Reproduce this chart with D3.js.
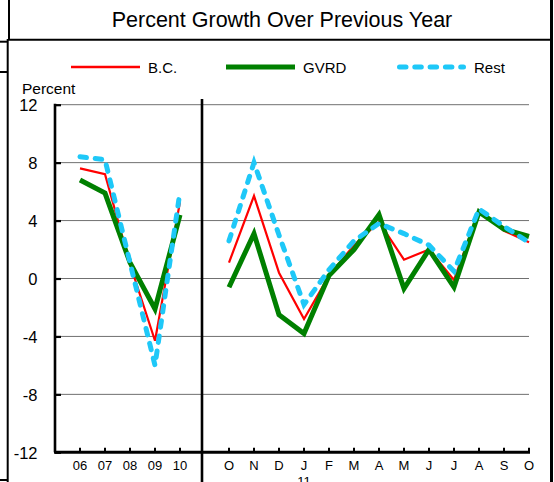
<!DOCTYPE html>
<html>
<head>
<meta charset="utf-8">
<script src="https://cdn.jsdelivr.net/npm/d3@7"></script>
<style>
  html, body { margin: 0; padding: 0; background: #fff; }
  svg { display: block; font-family: "Liberation Sans", Arial, sans-serif; }
</style>
</head>
<body>
<svg id="chart" width="554" height="482"></svg>
<script>
// Annual growth, 2006-2010
const years = ["06", "07", "08", "09", "10"];
const bcAnnual   = [7.6, 7.2, 1.0, -4.3, 5.3];
const gvrdAnnual = [6.8, 5.9, 1.1, -2.1, 4.4];
const restAnnual = [8.4, 8.2, 1.1, -6.0, 6.0];

// Monthly growth, Oct 2010 - Oct 2011
const months = ["O", "N", "D", "J", "F", "M", "A", "M", "J", "J", "A", "S", "O"];
const bcMonthly   = [1.1, 5.7, 0.4, -2.8, 0.2, 2.3, 3.9, 1.3, 2.0, -0.1, 4.7, 3.3, 2.5];
const gvrdMonthly = [-0.6, 3.1, -2.5, -3.8, 0.2, 2.0, 4.4, -0.7, 2.0, -0.6, 4.6, 3.4, 2.9];
const restMonthly = [2.6, 8.0, 3.0, -1.8, 0.6, 2.6, 3.8, 3.1, 2.3, 0.5, 4.8, 3.6, 2.5];

const yTicks = [12, 8, 4, 0, -4, -8, -12];
const seriesNames = ["B.C.", "GVRD", "Rest"];

const svg = d3.select("#chart");

const y = d3.scaleLinear().domain([-12, 12]).range([452.3, 104.7]);
const xYear = d3.scalePoint().domain(years).range([80, 180]);
const xMonth = d3.scalePoint().domain(d3.range(months.length)).range([229, 529]);

const styles = [
  { color: "#ff0000", width: 2.2, dash: null },
  { color: "#008000", width: 5, dash: null },
  { color: "#1ec8f8", width: 5, dash: "6.5 8.8" }
];

// Outer frame
const frame = svg.append("g").attr("stroke", "#000").attr("fill", "none");
frame.append("line").attr("x1", 9).attr("x2", 9).attr("y1", 0).attr("y2", 40).attr("stroke-width", 2);
frame.append("line").attr("x1", 8).attr("x2", 551).attr("y1", 39.7).attr("y2", 39.7).attr("stroke-width", 2);
frame.append("line").attr("x1", 7.7).attr("x2", 7.7).attr("y1", 39).attr("y2", 482).attr("stroke-width", 2);
frame.append("line").attr("x1", 551.5).attr("x2", 551.5).attr("y1", 0).attr("y2", 482).attr("stroke-width", 3);
[41.7, 72, 480].forEach(v => {
  frame.append("line").attr("x1", 0).attr("x2", 8).attr("y1", v).attr("y2", v).attr("stroke-width", 2);
});

// Title
svg.append("text")
  .attr("x", 282).attr("y", 27)
  .attr("text-anchor", "middle")
  .attr("font-size", 21.5)
  .text("Percent Growth Over Previous Year");

// Gridlines
svg.append("g").selectAll("line").data(yTicks.filter(d => d !== -12)).join("line")
  .attr("x1", 54).attr("x2", 529)
  .attr("y1", d => y(d)).attr("y2", d => y(d))
  .attr("stroke", "#707070").attr("stroke-width", 1);

// Y axis
const yAxis = svg.append("g").attr("transform", "translate(55,0)")
  .call(d3.axisLeft(y).tickValues(yTicks).tickFormat(d => String(d)).tickSize(-6).tickPadding(0));
yAxis.select(".domain").remove();
yAxis.selectAll(".tick line").attr("stroke", "#000").attr("stroke-width", 2.2);
yAxis.selectAll(".tick text")
  .attr("x", -17.5).attr("dy", "0.36em")
  .attr("font-size", 16.5).attr("font-family", "Liberation Sans, Arial, sans-serif").attr("fill", "#000");
svg.append("line").attr("x1", 55).attr("x2", 55).attr("y1", y(12) - 1).attr("y2", y(-12))
  .attr("stroke", "#000").attr("stroke-width", 2.6);

svg.append("text").attr("x", 22).attr("y", 94).attr("font-size", 15.5).text("Percent");

// X axis baseline and ticks
svg.append("line").attr("x1", 54).attr("x2", 530).attr("y1", y(-12)).attr("y2", y(-12))
  .attr("stroke", "#000").attr("stroke-width", 3);

const tickG = svg.append("g");
const tickXs = years.map(d => xYear(d)).concat(d3.range(months.length).map(i => xMonth(i)));
tickG.selectAll("line").data(tickXs).join("line")
  .attr("x1", d => d).attr("x2", d => d)
  .attr("y1", y(-12)).attr("y2", y(-12) - 4.5)
  .attr("stroke", "#000").attr("stroke-width", 2);

svg.append("g").selectAll("text").data(years).join("text")
  .attr("x", d => xYear(d)).attr("y", 470)
  .attr("text-anchor", "middle").attr("font-size", 13)
  .text(d => d);

svg.append("g").selectAll("text").data(months).join("text")
  .attr("x", (d, i) => xMonth(i)).attr("y", 470)
  .attr("text-anchor", "middle").attr("font-size", 13)
  .text(d => d);

svg.append("text").attr("x", xMonth(3)).attr("y", 486)
  .attr("text-anchor", "middle").attr("font-size", 13).text("11");

// Divider between annual and monthly panels
svg.append("line").attr("x1", 202).attr("x2", 202).attr("y1", 99).attr("y2", 482)
  .attr("stroke", "#000").attr("stroke-width", 2.6);

// Series lines
function drawSeries(values, xScale, keys, st) {
  const line = d3.line().x((d, i) => xScale(keys[i])).y(d => y(d));
  svg.append("path").datum(values)
    .attr("d", line)
    .attr("fill", "none")
    .attr("stroke", st.color)
    .attr("stroke-width", st.width)
    .attr("stroke-linejoin", "miter")
    .attr("stroke-linecap", st.dash ? "round" : "butt")
    .attr("stroke-dasharray", st.dash);
}
const monthKeys = d3.range(months.length);
[[bcAnnual, bcMonthly], [gvrdAnnual, gvrdMonthly], [restAnnual, restMonthly]].forEach((pair, k) => {
  drawSeries(pair[0], xYear, years, styles[k]);
  drawSeries(pair[1], xMonth, monthKeys, styles[k]);
});

// Legend
const legendX = [71, 226, 397];
seriesNames.forEach((name, k) => {
  const st = styles[k];
  svg.append("line")
    .attr("x1", legendX[k] + (st.dash ? 2.5 : 0)).attr("x2", legendX[k] + 69 - (st.dash ? 2.5 : 0))
    .attr("y1", 67).attr("y2", 67)
    .attr("stroke", st.color)
    .attr("stroke-width", k === 0 ? 2.5 : st.width)
    .attr("stroke-linecap", st.dash ? "round" : "butt")
    .attr("stroke-dasharray", st.dash);
  svg.append("text")
    .attr("x", legendX[k] + 77).attr("y", 72.5)
    .attr("font-size", 15)
    .text(name);
});
</script>
</body>
</html>
